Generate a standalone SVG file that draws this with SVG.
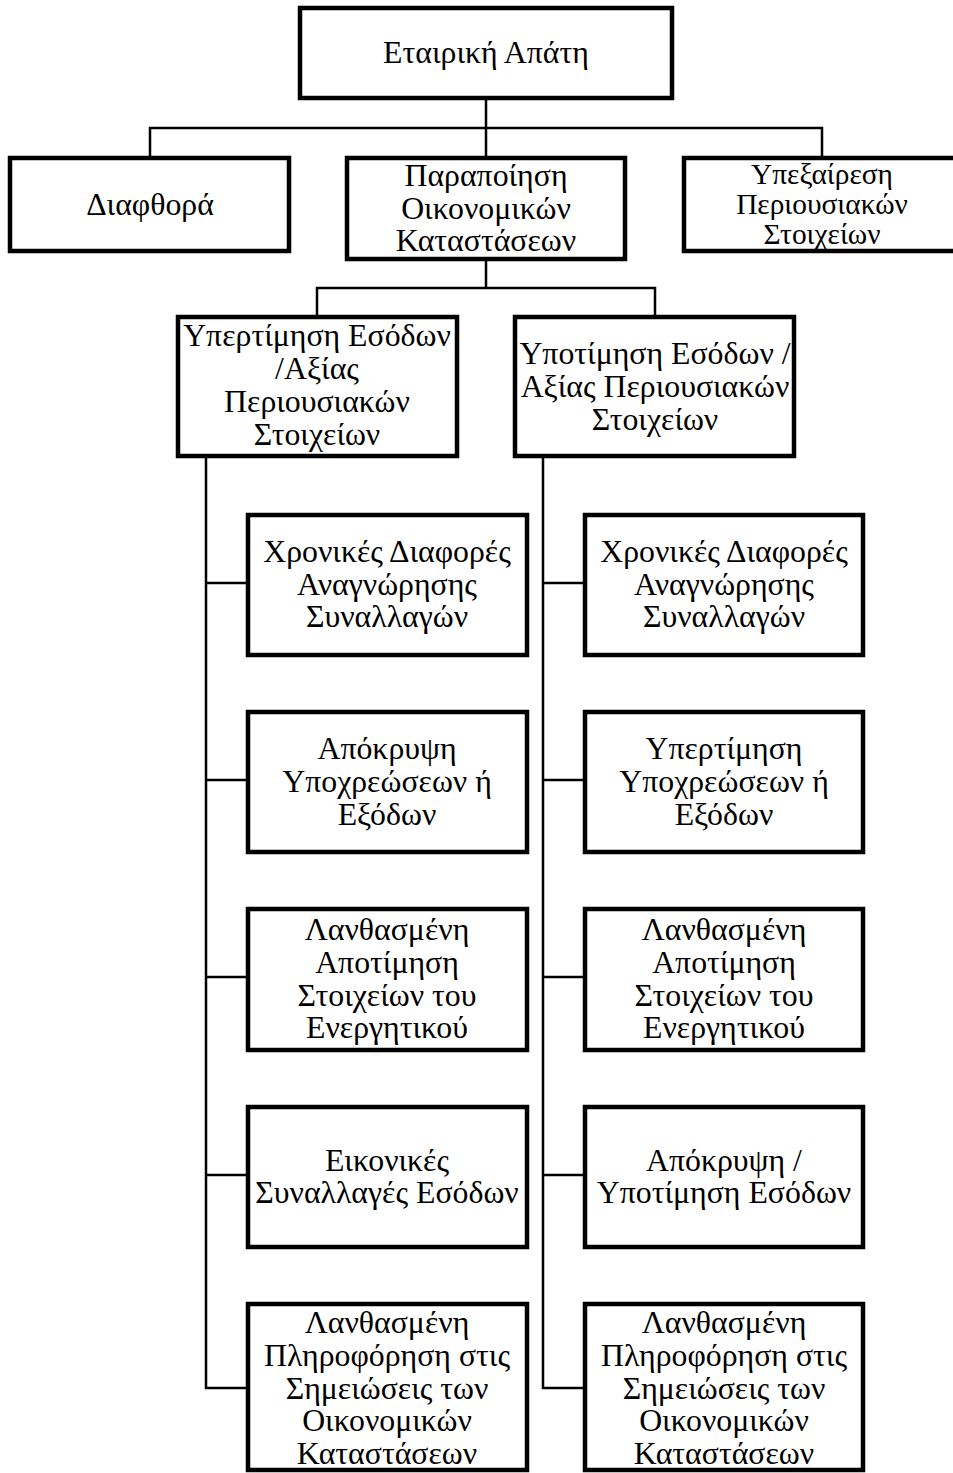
<svg xmlns="http://www.w3.org/2000/svg" width="953" height="1473" viewBox="0 0 953 1473">
<style>
.box{fill:#fff;stroke:#000;stroke-width:4.5}
.conn{fill:none;stroke:#000;stroke-width:2.5}
text{font-family:"Liberation Serif","Times New Roman",serif;font-size:31.8px;fill:#000;text-anchor:middle}
.sm{font-size:29.4px}
</style>
<rect width="953" height="1473" fill="#fff"/>
<g id="connectors">
<path class="conn" d="M486 98V128M150 158V128H822V158M486 128V158"/>
<path class="conn" d="M486 259V288M317 317V288H655V317"/>
<path class="conn" d="M206 456V1388H248M206 583H248M206 780H248M206 977H248M206 1175H248"/>
<path class="conn" d="M543 456V1388H585M543 583H585M543 780H585M543 977H585M543 1175H585"/>
</g>
<g id="root"><rect class="box" x="300" y="8" width="372" height="90"/><text x="486" y="63">Εταιρική Απάτη</text></g>
<g id="diafthora"><rect class="box" x="10" y="158" width="279" height="93"/><text x="150" y="215">Διαφθορά</text></g>
<g id="parapoiisi"><rect class="box" x="347" y="158" width="278" height="101"/><text x="486" y="186">Παραποίηση</text><text x="486" y="219">Οικονομικών</text><text x="486" y="251">Καταστάσεων</text></g>
<g id="ypexairesi"><rect class="box" x="684" y="158" width="278" height="93"/><text class="sm" x="822" y="184">Υπεξαίρεση</text><text class="sm" x="822" y="214">Περιουσιακών</text><text class="sm" x="822" y="244">Στοιχείων</text></g>
<g id="ypertimisi"><rect class="box" x="178" y="317" width="279" height="139"/><text x="317" y="346">Υπερτίμηση Εσόδων</text><text x="317" y="379">/Αξίας</text><text x="317" y="412">Περιουσιακών</text><text x="317" y="445">Στοιχείων</text></g>
<g id="ypotimisi"><rect class="box" x="515" y="317" width="279" height="139"/><text x="655" y="364">Υποτίμηση Εσόδων /</text><text x="655" y="397">Αξίας Περιουσιακών</text><text x="655" y="430">Στοιχείων</text></g>
<g id="L1"><rect class="box" x="248" y="515" width="279" height="140"/><text x="387" y="562">Χρονικές Διαφορές</text><text x="387" y="595">Αναγνώρησης</text><text x="387" y="627">Συναλλαγών</text></g>
<g id="L2"><rect class="box" x="248" y="712" width="279" height="140"/><text x="387" y="759">Απόκρυψη</text><text x="387" y="792">Υποχρεώσεων ή</text><text x="387" y="825">Εξόδων</text></g>
<g id="L3"><rect class="box" x="248" y="909" width="279" height="141"/><text x="387" y="940">Λανθασμένη</text><text x="387" y="973">Αποτίμηση</text><text x="387" y="1006">Στοιχείων του</text><text x="387" y="1038">Ενεργητικού</text></g>
<g id="L4"><rect class="box" x="248" y="1107" width="279" height="140"/><text x="387" y="1171">Εικονικές</text><text x="387" y="1203">Συναλλαγές Εσόδων</text></g>
<g id="L5"><rect class="box" x="248" y="1304" width="279" height="166"/><text x="387" y="1333">Λανθασμένη</text><text x="387" y="1366">Πληροφόρηση στις</text><text x="387" y="1399">Σημειώσεις των</text><text x="387" y="1431">Οικονομικών</text><text x="387" y="1464">Καταστάσεων</text></g>
<g id="R1"><rect class="box" x="585" y="515" width="278" height="140"/><text x="724" y="562">Χρονικές Διαφορές</text><text x="724" y="595">Αναγνώρησης</text><text x="724" y="627">Συναλλαγών</text></g>
<g id="R2"><rect class="box" x="585" y="712" width="278" height="140"/><text x="724" y="759">Υπερτίμηση</text><text x="724" y="792">Υποχρεώσεων ή</text><text x="724" y="825">Εξόδων</text></g>
<g id="R3"><rect class="box" x="585" y="909" width="278" height="141"/><text x="724" y="940">Λανθασμένη</text><text x="724" y="973">Αποτίμηση</text><text x="724" y="1006">Στοιχείων του</text><text x="724" y="1038">Ενεργητικού</text></g>
<g id="R4"><rect class="box" x="585" y="1107" width="278" height="140"/><text x="724" y="1171">Απόκρυψη /</text><text x="724" y="1203">Υποτίμηση Εσόδων</text></g>
<g id="R5"><rect class="box" x="585" y="1304" width="278" height="166"/><text x="724" y="1333">Λανθασμένη</text><text x="724" y="1366">Πληροφόρηση στις</text><text x="724" y="1399">Σημειώσεις των</text><text x="724" y="1431">Οικονομικών</text><text x="724" y="1464">Καταστάσεων</text></g>
</svg>
